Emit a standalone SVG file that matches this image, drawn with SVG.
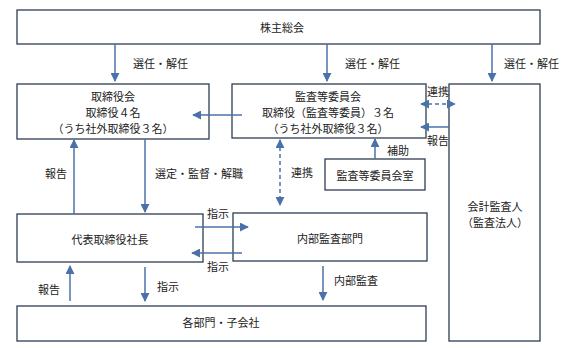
<svg xmlns="http://www.w3.org/2000/svg" width="564" height="348" viewBox="0 0 564 348">
<defs>
<marker id="ah" viewBox="0 0 10 10" refX="9" refY="5" markerWidth="9" markerHeight="9" markerUnits="userSpaceOnUse" orient="auto-start-reverse">
<path d="M0,0 L10,5 L0,10 z" fill="#4a72a8"/>
</marker>
<style>
.box{fill:#fff;stroke:#2e3c52;stroke-width:1.3}
.t{font-family:"Noto Sans CJK JP","Noto Sans CJK SC",sans-serif;font-size:11px;fill:#222;text-anchor:middle;dominant-baseline:central}
.l{font-family:"Noto Sans CJK JP","Noto Sans CJK SC",sans-serif;font-size:11px;fill:#222;text-anchor:start;dominant-baseline:central}
.a{stroke:#4a72a8;stroke-width:1.5;fill:none;marker-end:url(#ah)}
.dd{stroke:#4a72a8;stroke-width:1.5;fill:none;stroke-dasharray:4,3;marker-end:url(#ah);marker-start:url(#ah)}
</style>
</defs>
<rect width="564" height="348" fill="#fff"/>
<g id="n-shareholders"><rect class="box" x="17" y="10" width="523" height="34"/><text class="t" x="282" y="27">株主総会</text></g>
<g id="n-board"><rect class="box" x="17" y="84" width="192" height="55"/><text class="t" x="113" y="96">取締役会</text><text class="t" x="113" y="112">取締役４名</text><text class="t" x="113" y="128">（うち社外取締役３名）</text></g>
<g id="n-auditcommittee"><rect class="box" x="232" y="84" width="194" height="54"/><text class="t" x="328" y="96">監査等委員会</text><text class="t" x="328" y="112">取締役（監査等委員）３名</text><text class="t" x="328" y="128">（うち社外取締役３名）</text></g>
<g id="n-auditor"><rect class="box" x="449" y="84" width="91" height="257"/><text class="t" x="495" y="206">会計監査人</text><text class="t" x="495" y="222">（監査法人）</text></g>
<g id="n-office"><rect class="box" x="325" y="159" width="100" height="31"/><text class="t" x="375" y="175">監査等委員会室</text></g>
<g id="n-president"><rect class="box" x="17" y="214" width="186" height="48"/><text class="t" x="110" y="239">代表取締役社長</text></g>
<g id="n-internal"><rect class="box" x="233" y="213" width="194" height="48"/><text class="t" x="330" y="238">内部監査部門</text></g>
<g id="n-depts"><rect class="box" x="17" y="306" width="409" height="35"/><text class="t" x="221" y="322">各部門・子会社</text></g>
<g id="connectors">
<line class="a" x1="115" y1="44" x2="115" y2="81"/>
<line class="a" x1="327" y1="44" x2="327" y2="81"/>
<line class="a" x1="492" y1="44" x2="492" y2="81"/>
<line class="a" x1="242" y1="115" x2="193" y2="115"/>
<line class="dd" x1="421" y1="104" x2="455" y2="104"/>
<line class="a" x1="449" y1="127" x2="421" y2="127"/>
<line class="a" x1="375" y1="159" x2="375" y2="139"/>
<line class="dd" x1="280" y1="140" x2="280" y2="205"/>
<line class="a" x1="145" y1="139" x2="145" y2="212"/>
<line class="a" x1="74" y1="214" x2="74" y2="140"/>
<line class="a" x1="195" y1="227" x2="248" y2="227"/>
<line class="a" x1="242" y1="253" x2="192" y2="253"/>
<line class="a" x1="145" y1="267" x2="145" y2="301"/>
<line class="a" x1="70" y1="301" x2="70" y2="266"/>
<line class="a" x1="323" y1="266" x2="323" y2="300"/>
</g>
<g id="labels">
<text class="l" x="133" y="63">選任・解任</text>
<text class="l" x="345" y="63">選任・解任</text>
<text class="l" x="504" y="63">選任・解任</text>
<text class="l" x="427" y="91">連携</text>
<text class="l" x="427" y="140">報告</text>
<text class="l" x="387" y="150">補助</text>
<text class="l" x="291" y="172">連携</text>
<text class="l" x="155" y="173">選定・監督・解職</text>
<text class="l" x="45" y="173">報告</text>
<text class="l" x="207" y="213">指示</text>
<text class="l" x="207" y="266">指示</text>
<text class="l" x="157" y="286">指示</text>
<text class="l" x="38" y="289">報告</text>
<text class="l" x="334" y="280">内部監査</text>
</g>
</svg>
